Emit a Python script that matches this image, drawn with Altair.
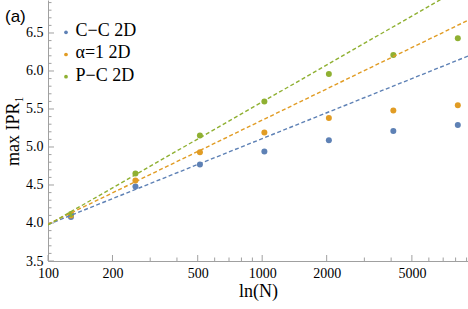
import altair as alt
import pandas as pd

# ---- data ----
N_values = [128, 256, 512, 1024, 2048, 4096, 8192]
cc_2d = [4.08, 4.48, 4.77, 4.94, 5.09, 5.21, 5.29]
alpha1_2d = [4.10, 4.56, 4.93, 5.19, 5.38, 5.48, 5.55]
pc_2d = [4.12, 4.65, 5.15, 5.60, 5.96, 6.21, 6.43]
series_names = ["C\u2212C 2D", "\u03b1=1 2D", "P\u2212C 2D"]
colors = ["#5E81B5", "#E19C24", "#8FB032"]

# dashed fit lines: value at N=100 and N=10000
fit_N = [100, 10000]
fit_cc = [3.98, 6.24]
fit_alpha1 = [3.985, 6.72]
fit_pc = [3.975, 7.21]

x_major = [100, 200, 500, 1000, 2000, 5000]
x_minor = [300, 400, 600, 700, 800, 900, 3000, 4000, 6000, 7000, 8000, 9000]
y_major = [3.5, 4.0, 4.5, 5.0, 5.5, 6.0, 6.5]
y_minor = [3.6, 3.7, 3.8, 3.9, 4.1, 4.2, 4.3, 4.4, 4.6, 4.7, 4.8, 4.9,
           5.1, 5.2, 5.3, 5.4, 5.6, 5.7, 5.8, 5.9, 6.1, 6.2, 6.3, 6.4, 6.6, 6.7, 6.8, 6.9]

# ---- tables ----
pts = pd.DataFrame({
    "N": N_values * 3,
    "v": cc_2d + alpha1_2d + pc_2d,
    "s": [series_names[0]] * 7 + [series_names[1]] * 7 + [series_names[2]] * 7,
})
fits = pd.DataFrame({
    "N": fit_N * 3,
    "v": fit_cc + fit_alpha1 + fit_pc,
    "s": [series_names[0]] * 2 + [series_names[1]] * 2 + [series_names[2]] * 2,
})

W, H = 420, 261
XMIN, XMAX = 100, 9140
YMIN, YMAX = 3.5, 6.934
SERIF = "Liberation Serif"
AX = "#a0a0a0"

xs = alt.Scale(type="log", domain=[XMIN, XMAX], nice=False)
ys = alt.Scale(domain=[YMIN, YMAX], nice=False, zero=False)
cs = alt.Scale(domain=series_names, range=colors)

x_axis = alt.Axis(values=x_major, format="d", tickSize=0, labelPadding=5, labelFlush=False,
                  labelFont=SERIF, labelFontSize=14, labelColor="black",
                  domainColor=AX, grid=False, title="ln(N)",
                  titleFont=SERIF, titleFontSize=18, titleFontWeight="normal",
                  titlePadding=2, titleColor="black")
y_axis = alt.Axis(values=y_major, format=".1f", tickSize=0, labelPadding=5, labelFlush=False,
                  labelFont=SERIF, labelFontSize=14, labelColor="black",
                  domainColor=AX, grid=False, title="max IPR\u2081",
                  titleFont=SERIF, titleFontSize=18, titleFontWeight="normal",
                  titlePadding=3, titleColor="black")

color_enc = alt.Color("s:N", scale=cs, sort=series_names, legend=None)

lines = alt.Chart(fits).mark_line(strokeDash=[4, 2.5], strokeWidth=1.4, clip=True).encode(
    x=alt.X("N:Q", scale=xs, axis=x_axis),
    y=alt.Y("v:Q", scale=ys, axis=y_axis),
    color=color_enc,
    detail="s:N",
)

points = alt.Chart(pts).mark_circle(size=36, opacity=1).encode(
    x=alt.X("N:Q", scale=xs),
    y=alt.Y("v:Q", scale=ys),
    color=color_enc,
)

xt_major = alt.Chart(pd.DataFrame({"t": x_major})).mark_rule(color=AX, strokeWidth=1).encode(
    x=alt.X("t:Q", scale=xs), y=alt.value(H), y2=alt.value(H - 6))
xt_minor = alt.Chart(pd.DataFrame({"t": x_minor})).mark_rule(color=AX, strokeWidth=1).encode(
    x=alt.X("t:Q", scale=xs), y=alt.value(H), y2=alt.value(H - 3.5))
yt_major = alt.Chart(pd.DataFrame({"t": y_major})).mark_rule(color=AX, strokeWidth=1).encode(
    y=alt.Y("t:Q", scale=ys), x=alt.value(0), x2=alt.value(6))
yt_minor = alt.Chart(pd.DataFrame({"t": y_minor})).mark_rule(color=AX, strokeWidth=1).encode(
    y=alt.Y("t:Q", scale=ys), x=alt.value(0), x2=alt.value(3.5))

# manual legend (inside the plot, top-left)
legend_layers = []
one = pd.DataFrame({"k": [0]})
for i, (name, col) in enumerate(zip(series_names, colors)):
    legend_layers.append(
        alt.Chart(one).mark_circle(size=14, opacity=1, color=col).encode(
            x=alt.value(18), y=alt.value(32.3 + 22.2 * i)))
    legend_layers.append(
        alt.Chart(one).mark_text(font=SERIF, fontSize=18, align="left",
                                 baseline="alphabetic", color="black").encode(
            text=alt.value(name), x=alt.value(27.5), y=alt.value(36.2 + 22.2 * i)))

label = alt.Chart(one).mark_text(
    font="Liberation Sans", fontSize=17, align="left", baseline="middle", color="black"
).encode(text=alt.value("(a)"), x=alt.value(-43), y=alt.value(17))

chart = alt.layer(xt_major, xt_minor, yt_major, yt_minor, points, lines,
                  *legend_layers, label).properties(
    width=W, height=H,
    autosize=alt.AutoSizeParams(type="none"),
    padding={"left": 48, "top": 0, "right": 0, "bottom": 48},
).configure_view(stroke=None)

chart.save("out.html", embed_options={"renderer": "svg", "actions": False})
